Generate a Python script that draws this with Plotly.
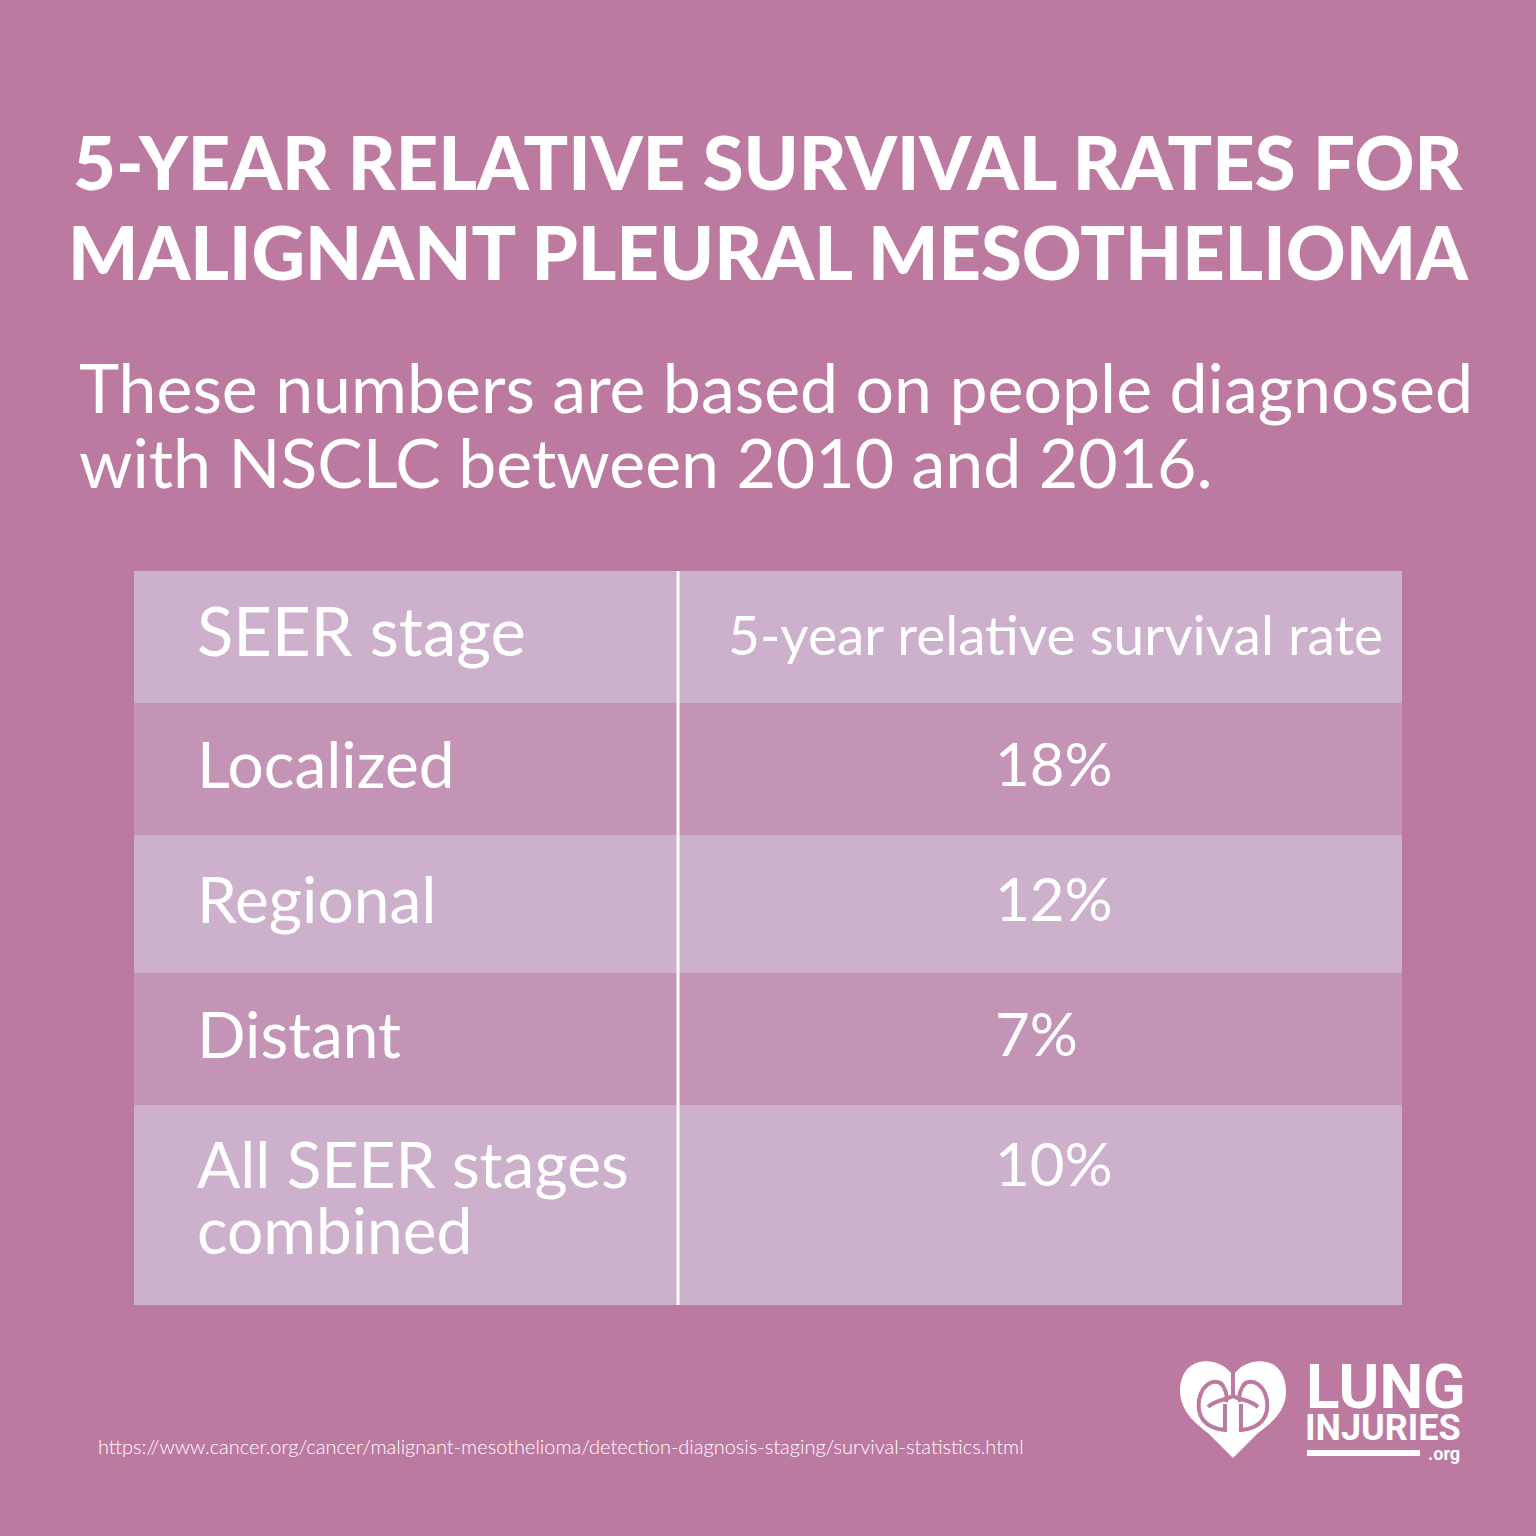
import plotly.graph_objects as go

# ---- data ----
title_lines = ["5-YEAR RELATIVE SURVIVAL RATES FOR", "MALIGNANT PLEURAL MESOTHELIOMA"]
subtitle_lines = ["These numbers are based on people diagnosed", "with NSCLC between 2010 and 2016."]
header = ["SEER stage", "5-year relative survival rate"]
stages = ["Localized", "Regional", "Distant", "All SEER stages<br>combined"]
rates = [18, 12, 7, 10]
source = "https://www.cancer.org/cancer/malignant-mesothelioma/detection-diagnosis-staging/survival-statistics.html"

# ---- layout constants ----
W = H = 1536
BG = "#BD7AA1"
LIGHT = "#CCB0CC"
DARK = "#C494B6"
FONT = "Lato"
row_edges = [571, 703, 835, 973, 1105, 1305]
tx0, tdiv, tx1 = 134, 678, 1402
col1_x, col2_x = 197, 995

fig = go.Figure()
fig.add_trace(go.Scatter(x=[0, W], y=[0, H], mode="markers", marker=dict(opacity=0),
                         hoverinfo="skip", showlegend=False))

shapes = []
annots = []


def text(x, y, s, size, xanchor="left", weight=400, family=FONT, color="white"):
    annots.append(dict(x=x, y=y, xref="x", yref="y", text=s, showarrow=False,
                       xanchor=xanchor, yanchor="middle",
                       font=dict(family=family, size=size, color=color, weight=weight)))


# title
for i, line in enumerate(title_lines):
    text(768, 161 + i * 90, line, 74, xanchor="center", weight=900)
# subtitle
for i, line in enumerate(subtitle_lines):
    text(77, 386 + i * 75, line, 68)

# table rows
for i in range(len(row_edges) - 1):
    fill = LIGHT if i % 2 == 0 else DARK
    shapes.append(dict(type="rect", xref="x", yref="y", x0=tx0, x1=tx1,
                       y0=row_edges[i], y1=row_edges[i + 1], fillcolor=fill,
                       line=dict(width=0), layer="below"))
shapes.append(dict(type="line", xref="x", yref="y", x0=tdiv, x1=tdiv,
                   y0=row_edges[0], y1=row_edges[-1], line=dict(color="white", width=3)))

# header
text(col1_x - 2, 630, header[0], 67)
text(726, 634, header[1], 55)

# body
for i, (st, r) in enumerate(zip(stages, rates)):
    top = row_edges[i + 1]
    lines = st.split("<br>")
    if len(lines) == 1:
        yc = (row_edges[i + 1] + row_edges[i + 2]) / 2 - 6
    else:
        yc = top + 58
    for j, ln in enumerate(lines):
        text(col1_x - 2, yc + j * 66, ln, 64)
    text(col2_x - 2, yc, f"{r}%", 60)

# source
text(96, 1446, source, 20, weight=300)

# logo heart
heart = ("M 1233 1376 C 1222 1356, 1180 1352, 1180 1392 C 1181 1412, 1196 1424, 1208 1433 "
         "L 1233 1458 L 1258 1433 C 1270 1424, 1286 1412, 1286 1392 C 1286 1352, 1244 1356, 1233 1376 Z")
shapes.append(dict(type="path", xref="x", yref="y", path=heart, fillcolor="white", line=dict(width=0)))


def mirror(pts):
    return [(2466 - x, y) for x, y in pts]


lung_pts = [(1224, 1388), (1220, 1377), (1203, 1380), (1199, 1400), (1197, 1416), (1204, 1428), (1225, 1430)]


def lung_path(p):
    return (f"M {p[0][0]} {p[0][1]} C {p[1][0]} {p[1][1]}, {p[2][0]} {p[2][1]}, {p[3][0]} {p[3][1]} "
            f"C {p[4][0]} {p[4][1]}, {p[5][0]} {p[5][1]}, {p[6][0]} {p[6][1]} L {p[6][0]} 1404")


branch_pts = [(1208, 1407), (1215, 1400), (1226, 1400), (1233, 1396)]


def branch_path(p):
    return (f"M {p[0][0]} {p[0][1]} C {p[1][0]} {p[1][1]}, {p[2][0]} {p[2][1]}, {p[3][0]} {p[3][1]}")


logo_paths = [lung_path(lung_pts), lung_path(mirror(lung_pts)),
              branch_path(branch_pts), branch_path(mirror(branch_pts)),
              "M 1233 1372 L 1233 1397",
              "M 1224 1388 C 1227 1393, 1227 1398, 1226 1402",
              "M 1242 1388 C 1239 1393, 1239 1398, 1240 1402"]
for p in logo_paths:
    shapes.append(dict(type="path", xref="x", yref="y", path=p, line=dict(color=BG, width=4)))

text(1304, 1386, "LUNG", 62, weight=700, family="Roboto")
text(1303, 1428, "INJURIES", 36, weight=700, family="Roboto")
shapes.append(dict(type="rect", xref="x", yref="y", x0=1307, x1=1420, y0=1450, y1=1456,
                   fillcolor="white", line=dict(width=0)))
text(1462, 1453, ".org", 18, xanchor="right", weight=700, family="Roboto")

fig.update_layout(
    width=W, height=H, margin=dict(l=0, r=0, t=0, b=0),
    paper_bgcolor=BG, plot_bgcolor=BG,
    xaxis=dict(range=[0, W], visible=False, fixedrange=True),
    yaxis=dict(range=[H, 0], visible=False, fixedrange=True),
    shapes=shapes, annotations=annots, showlegend=False,
)
fig.write_html("out.html", config={"displayModeBar": False},
               post_script="document.body.style.margin='0px';")
